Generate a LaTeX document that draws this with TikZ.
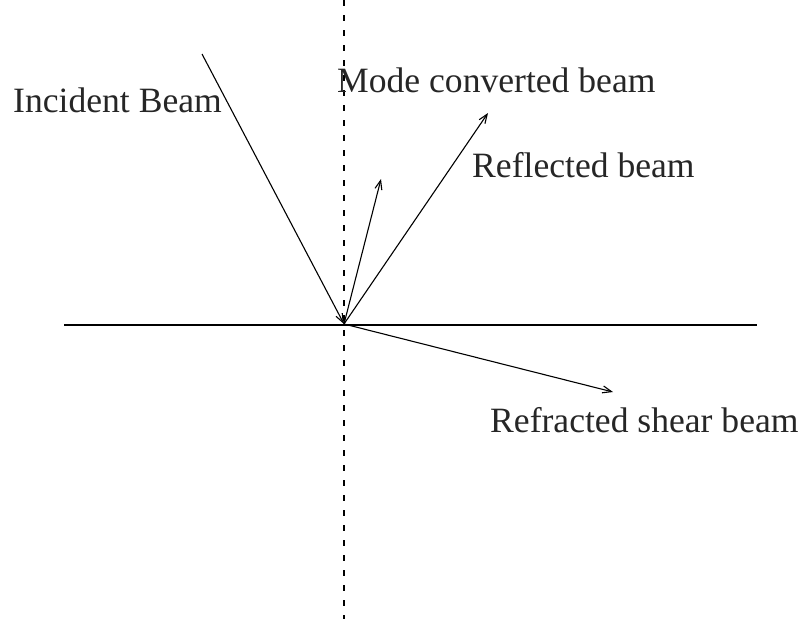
\documentclass[tikz,border=0pt]{standalone}
\usepackage{fontspec}
\setmainfont{Liberation Serif}
\usetikzlibrary{arrows.meta}
\begin{document}
\begin{tikzpicture}[x=1pt,y=-1pt,
  beam/.style={line width=1.1pt,-{Straight Barb[length=9pt,width=7pt,line width=1.1pt]}},
  lbl/.style={anchor=base west,inner sep=0pt,font=\fontsize{35.6}{40}\selectfont,text=black!85}]
\useasboundingbox (0,0) rectangle (803,619);
\coordinate (O) at (344,324);
\coordinate (Vtop) at (344,0);
\coordinate (Vbot) at (344,619);
\coordinate (Hl) at (64,325);
\coordinate (Hr) at (757,325);
\coordinate (I) at (202,54);
\coordinate (M) at (381,179);
\coordinate (R) at (488,113);
\coordinate (S) at (613,392);
\draw[line width=1.1pt,dash pattern=on 6pt off 9pt] (Vtop) -- (Vbot);
\draw[line width=1.1pt] (Hl) -- (Hr);
\draw[beam] (I) -- (O);
\draw[beam] (O) -- (M);
\draw[beam] (O) -- (R);
\draw[beam] (O) -- (S);
\node[lbl] (li) at (13,112) {Incident Beam};
\node[lbl] (lm) at (337,92) {Mode converted beam};
\node[lbl] (lr) at (472,177) {Reflected beam};
\node[lbl] (ls) at (490,432) {Refracted shear beam};
\end{tikzpicture}
\end{document}
